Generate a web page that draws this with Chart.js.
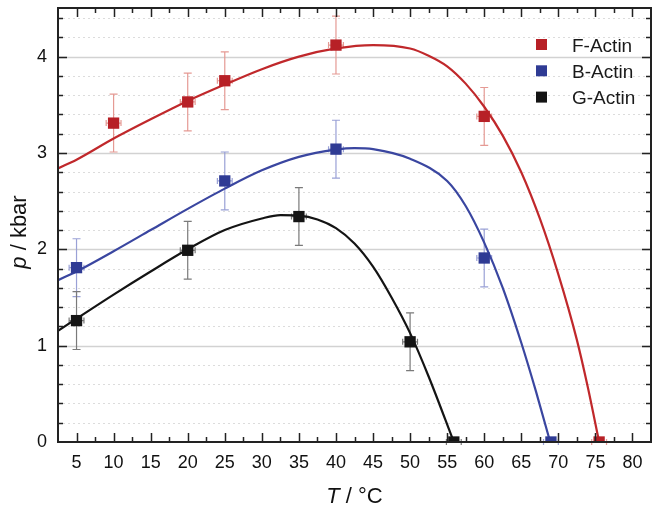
<!DOCTYPE html>
<html>
<head>
<meta charset="utf-8">
<script src="https://cdn.jsdelivr.net/npm/chart.js@4.4.0/dist/chart.umd.min.js"></script>
<style>
  html, body { margin: 0; padding: 0; background: #fff; }
  #wrap { width: 659px; height: 509px; }
</style>
</head>
<body>
<div id="wrap"><canvas id="actin" width="659" height="509"></canvas></div>
<script>
// measured points (T in °C, p in kbar)
const fTemp = [10, 20, 25, 40, 60, 75.5];
const fP    = [3.31, 3.53, 3.75, 4.12, 3.38, 0];
const fErr  = [0.3, 0.3, 0.3, 0.3, 0.3, 0];

const bTemp = [5, 25, 40, 60, 69];
const bP    = [1.81, 2.71, 3.04, 1.91, 0];
const bErr  = [0.3, 0.3, 0.3, 0.3, 0];

const gTemp = [5, 20, 35, 50, 55.9];
const gP    = [1.26, 1.99, 2.34, 1.04, 0];
const gErr  = [0.3, 0.3, 0.3, 0.3, 0];

const tErr = 1; // horizontal whiskers, °C

// fitted curves
const fFitT = [2.5, 5, 10, 15, 20, 25, 30, 35, 40, 45, 50, 52.5, 55, 57.5, 60, 62.5, 65, 67.5, 70, 72.5, 74, 75.5];
const fFitP = [2.84, 2.93, 3.15, 3.35, 3.54, 3.71, 3.87, 4.00, 4.085, 4.12, 4.085, 4.01, 3.90, 3.72, 3.48, 3.18, 2.80, 2.32, 1.74, 1.06, 0.56, 0];

const bFitT = [2.5, 5, 10, 15, 20, 25, 30, 35, 40, 42.5, 45, 50, 55, 57.5, 60, 62.5, 65, 67, 68.9];
const bFitP = [1.68, 1.77, 1.98, 2.20, 2.42, 2.63, 2.82, 2.96, 3.035, 3.05, 3.04, 2.94, 2.71, 2.45, 2.07, 1.60, 1.03, 0.52, 0];

const gFitT = [2.5, 5, 10, 15, 20, 25, 30, 32.5, 35, 37.5, 40, 42.5, 45, 47.5, 50, 52.5, 55.9];
const gFitP = [1.155, 1.28, 1.53, 1.77, 2.00, 2.20, 2.32, 2.355, 2.35, 2.31, 2.22, 2.06, 1.82, 1.50, 1.13, 0.68, 0];

const xTicks = [5, 10, 15, 20, 25, 30, 35, 40, 45, 50, 55, 60, 65, 70, 75, 80];
const yTicks = [0, 1, 2, 3, 4];

const FONT = "'Liberation Sans', Arial, sans-serif";

const series = [
  { label: 'F-Actin', t: fTemp, p: fP, err: fErr, fitT: fFitT, fitP: fFitP, color: '#b72026', line: '#c0282b', errColor: '#e59a94' },
  { label: 'B-Actin', t: bTemp, p: bP, err: bErr, fitT: bFitT, fitP: bFitP, color: '#2f3b94', line: '#3a46a0', errColor: '#9aa1d6' },
  { label: 'G-Actin', t: gTemp, p: gP, err: gErr, fitT: gFitT, fitP: gFitP, color: '#141414', line: '#141414', errColor: '#7a7a7a' }
];

const zip = (xs, ys) => xs.map((v, i) => ({ x: v, y: ys[i] }));

const datasets = [];
series.forEach(s => {
  datasets.push({
    label: s.label + ' fit',
    data: zip(s.fitT, s.fitP),
    showLine: true,
    borderColor: s.line,
    borderWidth: 2.2,
    pointRadius: 0,
    cubicInterpolationMode: 'monotone',
    order: 2
  });
});
series.forEach(s => {
  datasets.push({
    label: s.label,
    data: zip(s.t, s.p),
    pointStyle: 'rect',
    pointRadius: 8,
    pointBackgroundColor: s.color,
    pointBorderColor: s.color,
    pointBorderWidth: 0,
    showLine: false,
    order: 1
  });
});

const frame = {
  id: 'frame',
  beforeDatasetsDraw(chart) {
    const { ctx, chartArea: a, scales: { x, y } } = chart;
    ctx.save();
    // horizontal grid: solid at integers, dotted at minor steps
    for (let i = 1; i <= 22; i++) {
      const py = Math.round(y.getPixelForValue(i * 0.2)) + 0.5;
      ctx.beginPath();
      if (i % 5 === 0) {
        ctx.setLineDash([]);
        ctx.strokeStyle = '#d2d2d2';
        ctx.lineWidth = 1.5;
      } else {
        ctx.setLineDash([2, 3]);
        ctx.strokeStyle = '#dcdcdc';
        ctx.lineWidth = 1;
      }
      ctx.moveTo(a.left, py);
      ctx.lineTo(a.right, py);
      ctx.stroke();
    }
    ctx.setLineDash([]);
    // error bars
    series.forEach(s => {
      ctx.strokeStyle = s.errColor;
      ctx.lineWidth = 1.2;
      s.t.forEach((t, i) => {
        const px = x.getPixelForValue(t);
        const py = y.getPixelForValue(s.p[i]);
        const x0 = x.getPixelForValue(t - tErr), x1 = x.getPixelForValue(t + tErr);
        ctx.beginPath();
        ctx.moveTo(x0, py); ctx.lineTo(x1, py);
        ctx.moveTo(x0, py - 3); ctx.lineTo(x0, py + 3);
        ctx.moveTo(x1, py - 3); ctx.lineTo(x1, py + 3);
        if (s.err[i] > 0) {
          const yt = y.getPixelForValue(s.p[i] + s.err[i]);
          const yb = y.getPixelForValue(s.p[i] - s.err[i]);
          ctx.moveTo(px, yt); ctx.lineTo(px, yb);
          ctx.moveTo(px - 4, yt); ctx.lineTo(px + 4, yt);
          ctx.moveTo(px - 4, yb); ctx.lineTo(px + 4, yb);
        }
        ctx.stroke();
      });
    });
    ctx.restore();
  },
  afterDraw(chart) {
    const { ctx, chartArea: a, scales: { x, y } } = chart;
    ctx.save();
    ctx.strokeStyle = '#222';
    // inward ticks on all four sides
    ctx.lineWidth = 1.5;
    ctx.beginPath();
    for (let i = 2; i <= 32; i++) {
      const px = Math.round(x.getPixelForValue(i * 2.5)) + 0.5;
      const len = i % 2 === 0 ? 9 : 5;
      ctx.moveTo(px, a.bottom); ctx.lineTo(px, a.bottom - len);
      ctx.moveTo(px, a.top); ctx.lineTo(px, a.top + len);
    }
    for (let i = 1; i <= 22; i++) {
      const py = Math.round(y.getPixelForValue(i * 0.2)) + 0.5;
      const len = i % 5 === 0 ? 9 : 5;
      ctx.moveTo(a.left, py); ctx.lineTo(a.left + len, py);
      ctx.moveTo(a.right, py); ctx.lineTo(a.right - len, py);
    }
    ctx.stroke();
    // frame
    ctx.lineWidth = 2;
    ctx.strokeRect(a.left, a.top, a.right - a.left, a.bottom - a.top);

    // legend
    ctx.font = '19px ' + FONT;
    ctx.textBaseline = 'alphabetic';
    series.forEach((s, i) => {
      const cy = a.top + 36.5 + i * 26.3;
      ctx.fillStyle = s.color;
      ctx.fillRect(a.right - 115, cy - 5.5, 11, 11);
      ctx.fillStyle = '#1a1a1a';
      ctx.fillText(s.label, a.right - 79, cy + 7);
    });

    // axis titles with italic symbols
    ctx.fillStyle = '#111';
    const drawTitle = (sym, rest, cx, cy) => {
      ctx.font = 'italic 22px ' + FONT;
      const w1 = ctx.measureText(sym).width;
      ctx.font = '22px ' + FONT;
      const w2 = ctx.measureText(rest).width;
      const start = cx - (w1 + w2) / 2;
      ctx.textAlign = 'left';
      ctx.font = 'italic 22px ' + FONT;
      ctx.fillText(sym, start, cy);
      ctx.font = '22px ' + FONT;
      ctx.fillText(rest, start + w1, cy);
    };
    drawTitle('T', ' / °C', (a.left + a.right) / 2, 503);
    ctx.translate(26, 232);
    ctx.rotate(-Math.PI / 2);
    drawTitle('p', ' / kbar', 0, 0);
    ctx.restore();
  }
};

new Chart(document.getElementById('actin'), {
  type: 'scatter',
  data: { datasets },
  options: {
    responsive: false,
    animation: false,
    devicePixelRatio: 1,
    layout: { padding: { left: 0, top: 5, right: 4, bottom: 0 } },
    plugins: {
      legend: { display: false },
      tooltip: { enabled: false }
    },
    scales: {
      x: {
        type: 'linear',
        min: 2.5,
        max: 82.5,
        afterBuildTicks: scale => { scale.ticks = xTicks.map(v => ({ value: v })); },
        afterFit: scale => { scale.height = 67; scale.paddingLeft = 0; scale.paddingRight = 0; },
        grid: { display: false, drawTicks: false },
        border: { display: false },
        ticks: { padding: 10, color: '#111', font: { family: FONT, size: 18 }, maxRotation: 0, autoSkip: false }
      },
      y: {
        type: 'linear',
        min: 0,
        max: 4.505,
        afterBuildTicks: scale => { scale.ticks = yTicks.map(v => ({ value: v })); },
        afterFit: scale => { scale.width = 58; scale.paddingTop = 0; scale.paddingBottom = 0; },
        grid: { display: false, drawTicks: false },
        border: { display: false },
        ticks: { padding: 11, color: '#111', font: { family: FONT, size: 18 }, callback: v => v }
      }
    }
  },
  plugins: [frame]
});
</script>
</body>
</html>
